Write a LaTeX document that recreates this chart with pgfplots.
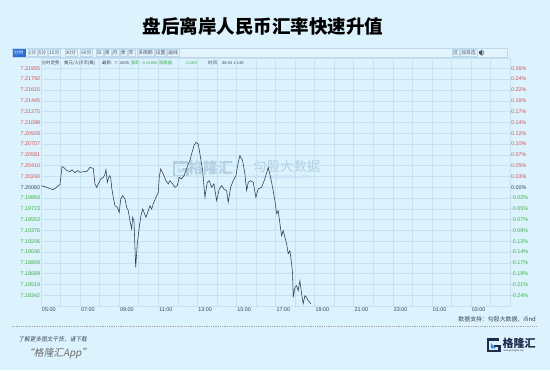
\documentclass[border=0pt]{standalone}
\usepackage{fontspec}
\setmainfont{Liberation Sans}
\newfontfamily\cjk{Noto Sans CJK SC}
\newfontfamily\cjkit[FakeSlant=0.2]{Noto Sans CJK SC}
\usepackage{pgfplots}
\pgfplotsset{compat=1.18}
\definecolor{bg}{HTML}{DCF2FC}
\definecolor{gridc}{HTML}{C4E2F3}
\definecolor{tred}{HTML}{D2555A}
\definecolor{tgreen}{HTML}{3FAE4C}
\definecolor{tdark}{HTML}{3A4458}
\definecolor{linec}{HTML}{2C3850}
\definecolor{tbborder}{HTML}{BCD8EA}
\definecolor{tbfill}{HTML}{E3F4FC}
\definecolor{tbtext}{HTML}{4A5568}
\definecolor{tbblue}{HTML}{2A6FD6}
\definecolor{navy}{HTML}{1E2B4A}
\definecolor{gblue}{HTML}{3C8DE0}
\definecolor{wm}{HTML}{B3CFE4}
\newcommand\R[1]{\textcolor{tred}{#1}}
\newcommand\G[1]{\textcolor{tgreen}{#1}}
\newcommand\D[1]{\textcolor{tdark}{#1}}
\newcommand\glogo[2]{%
  \draw[#1, line width=2.4] (12.6,12.6) -- (1.2,12.6) -- (1.2,1.2) -- (12.6,1.2) -- (12.6,6.6) -- (7.5,6.6);
  \fill[#2] (4.2,4.0) -- (9.2,4.0) -- (4.2,9.4) -- cycle;}
\begin{document}
\begin{tikzpicture}[x=1bp,y=1bp]
\useasboundingbox (0,0) rectangle (550,370);
\fill[bg] (0,0) rectangle (550,370);
% title
\node[font=\cjk\bfseries\fontsize{18.5bp}{20bp}\selectfont, text=black] at (263,344) {盘后离岸人民币汇率快速升值};
% toolbar
\draw[tbborder, fill=tbfill, line width=0.4] (12,312.6) rectangle (507,322);
\tikzset{tb/.style={draw=tbborder, fill=tbfill, line width=0.3, inner xsep=1.1bp, inner ysep=0.6bp, minimum height=6.6bp, font=\cjk\fontsize{4.8bp}{5bp}\selectfont, text=tbtext, anchor=west}}
\node[tb, fill=tbblue, draw=tbblue, text=white] at (12.7,317.3) {分时};
\node[tb] at (27.5,317.3) {1分};
\node[tb] at (37.5,317.3) {5分};
\node[tb] at (48,317.3) {15分};
\node[tb] at (64.5,317.3) {30分};
\node[tb] at (80,317.3) {60分};
\node[tb] at (95.5,317.3) {日};
\node[tb] at (103.5,317.3) {周};
\node[tb] at (111.5,317.3) {月};
\node[tb] at (119.5,317.3) {季};
\node[tb] at (127.5,317.3) {年};
\node[tb] at (137,317.3) {多周期};
\node[tb] at (154.5,317.3) {设置};
\node[tb] at (167,317.3) {画线};
\node[tb] at (452,317.3) {区};
\node[tb] at (460,317.3) {加自选};
\fill[tbtext] (478.5,315.8) rectangle (479.8,318.8);
\fill[tbtext] (479.8,315.8) -- (482.3,314.2) -- (482.3,320.4) -- (479.8,318.8) -- cycle;
\draw[tbtext, line width=0.4] (483.2,315.6) arc (-45:45:2.4);
% info line
\tikzset{inf/.style={anchor=west, inner sep=0pt, font=\cjk\fontsize{4.4bp}{5bp}\selectfont},
         num/.style={anchor=west, inner sep=0pt, font=\fontsize{4.0bp}{5bp}\selectfont}}
\node[inf, text=tdark] at (41.8,307.3) {分时走势};
\node[inf, text=tdark] at (64,307.3) {美元/人民币(离)};
\node[inf, text=tdark] at (102,307.3) {最新:};
\node[num, text=tdark] at (114.5,307.3) {7.18205};
\node[inf, text=tgreen] at (130.7,307.3) {涨跌:};
\node[num, text=tgreen] at (141.5,307.3) {-0.01855};
\node[inf, text=tgreen] at (158.5,307.3) {涨跌幅:};
\node[num, text=tgreen] at (185,307.3) {-0.26\%};
\node[inf, text=tdark] at (208,307.3) {时间:};
\node[num, text=tdark] at (222,307.3) {08-03 18:49};
% watermark
\begin{scope}[shift={(172.5,192.5)}, scale=1.2]
\glogo{wm}{wm!70!white}
\end{scope}
\node[anchor=west, inner sep=0pt, text=wm, font=\cjk\bfseries\fontsize{15bp}{16bp}\selectfont] at (188,202) {格隆汇};
\node[anchor=west, inner sep=0pt, text=wm, font=\fontsize{2.6bp}{3bp}\selectfont] at (188.5,193.5) {www.gelonghui.com};
\node[anchor=west, inner sep=0pt, text=wm, font=\cjk\fontsize{13.4bp}{14bp}\selectfont] at (253,203.5) {勾股大数据};
\node[anchor=west, inner sep=0pt, text=wm, font=\fontsize{5bp}{5bp}\selectfont] at (253,192.5) {w\,w\,w\,.\,g\,o\,g\,u\,d\,a\,t\,a\,.\,c\,o\,m};
% main axis
\begin{axis}[
  at={(41bp,64bp)}, anchor=south west, scale only axis,
  width=469bp, height=248bp,
  xmin=5, xmax=29, ymin=7.181717, ymax=7.22119,
  xtick={5,7,...,27},
  xticklabels={05:00,07:00,09:00,11:00,13:00,15:00,17:00,19:00,21:00,23:00,01:00,03:00},
  minor xtick={6,8,...,28},
  ytick={7.18342,7.1851405,7.186861,7.1885815,7.190302,7.1920225,7.193743,7.1954635,7.197184,7.1989045,7.200625,7.2023455,7.204066,7.2057865,7.207507,7.2092275,7.210948,7.2126685,7.214389,7.2161095,7.21783,7.21955},
  yticklabels={\G{7.18342},\G{7.18519},\G{7.18689},\G{7.18859},\G{7.19036},\G{7.19206},\G{7.19376},\G{7.19553},\G{7.19723},\G{7.19893},\D{7.20060},\R{7.20240},\R{7.20410},\R{7.20581},\R{7.20757},\R{7.20928},\R{7.21098},\R{7.21275},\R{7.21445},\R{7.21615},\R{7.21792},\R{7.21955}},
  ytick pos=left, xtick pos=bottom,
  major tick length=0pt, minor tick length=0pt,
  grid=both,
  major grid style={draw=gridc, line width=0.45bp},
  minor grid style={draw=gridc, line width=0.45bp},
  axis line style={draw=gridc, line width=0.45bp},
  tick label style={font=\fontsize{5.4bp}{6bp}\selectfont},
  xticklabel style={anchor=north west, inner sep=0.8bp, text=tdark, yshift=-0.6bp},
  yticklabel style={inner sep=0.6bp},
]
\addplot[linec, line width=0.55bp] coordinates {
(5.000,7.20087) (5.205,7.20071) (5.460,7.20039) (5.614,7.20023) (5.767,7.20055)
(5.870,7.20087) (5.972,7.20103) (6.074,7.20389) (6.176,7.20374) (6.330,7.20326)
(6.483,7.20310) (6.586,7.20342) (6.739,7.20294) (6.893,7.20326) (6.995,7.20299)
(7.199,7.20310) (7.353,7.20315) (7.506,7.20378) (7.675,7.20362) (7.762,7.20114)
(7.849,7.20060) (8.054,7.20194) (8.187,7.20219) (8.274,7.20273) (8.325,7.20342)
(8.391,7.20140) (8.494,7.20246) (8.565,7.20219) (8.616,7.20060) (8.698,7.19901)
(8.785,7.19769) (8.903,7.19742) (9.005,7.19662) (9.077,7.19875) (9.179,7.19928)
(9.297,7.19875) (9.384,7.19742) (9.465,7.19689) (9.552,7.19530) (9.639,7.19398)
(9.691,7.19583) (9.757,7.19530) (9.808,7.19105) (9.844,7.18787) (9.926,7.19159)
(10.028,7.19423) (10.100,7.19583) (10.202,7.19716) (10.269,7.19662) (10.371,7.19583)
(10.488,7.19689) (10.575,7.19769) (10.662,7.19716) (10.744,7.19796) (10.882,7.19901)
(11.000,7.19980) (11.051,7.20219) (11.123,7.20353) (11.256,7.20273) (11.394,7.20167)
(11.512,7.20114) (11.598,7.20167) (11.737,7.20114) (11.854,7.20060) (11.972,7.20087)
(12.074,7.20219) (12.197,7.20194) (12.315,7.20246) (12.417,7.20326) (12.535,7.20432)
(12.621,7.20485) (12.708,7.20592) (12.826,7.20724) (12.928,7.20776) (13.046,7.20751)
(13.133,7.20592) (13.271,7.20326) (13.389,7.19901) (13.506,7.20140) (13.609,7.20167)
(13.731,7.20060) (13.849,7.20114) (13.987,7.19848) (14.120,7.20035) (14.243,7.20087)
(14.361,7.20035) (14.499,7.20008) (14.581,7.19821) (14.703,7.20060) (14.836,7.20167)
(14.974,7.20246) (15.092,7.20458) (15.179,7.20565) (15.317,7.20485) (15.435,7.20273)
(15.522,7.20008) (15.604,7.20140) (15.726,7.20167) (15.859,7.20140) (15.997,7.19901)
(16.115,7.20035) (16.289,7.20060) (16.458,7.20198) (16.627,7.20378) (16.749,7.20219)
(16.882,7.20008) (16.969,7.19848) (17.056,7.19641) (17.138,7.19689) (17.225,7.19482)
(17.312,7.19291) (17.394,7.19371) (17.481,7.19264) (17.568,7.19164) (17.650,7.19005)
(17.737,7.19053) (17.824,7.18846) (17.875,7.18687) (17.905,7.18309) (17.992,7.18468)
(18.079,7.18495) (18.161,7.18416) (18.248,7.18575) (18.335,7.18368) (18.417,7.18209)
(18.504,7.18336) (18.591,7.18309) (18.673,7.18257) (18.817,7.18205)
};
\end{axis}
% right percentage axis
\begin{axis}[
  at={(41bp,64bp)}, anchor=south west, scale only axis,
  width=469bp, height=248bp,
  xmin=5, xmax=29, ymin=7.181717, ymax=7.22119,
  xtick=\empty, axis line style={draw=none},
  ytick pos=right, yticklabel pos=right,
  major tick length=0pt,
  ytick={7.18342,7.1851405,7.186861,7.1885815,7.190302,7.1920225,7.193743,7.1954635,7.197184,7.1989045,7.200625,7.2023455,7.204066,7.2057865,7.207507,7.2092275,7.210948,7.2126685,7.214389,7.2161095,7.21783,7.21955},
  yticklabels={\G{-0.24\%},\G{-0.21\%},\G{-0.19\%},\G{-0.17\%},\G{-0.14\%},\G{-0.12\%},\G{-0.09\%},\G{-0.07\%},\G{-0.05\%},\G{-0.02\%},\D{0.00\%},\R{0.03\%},\R{0.05\%},\R{0.07\%},\R{0.10\%},\R{0.12\%},\R{0.14\%},\R{0.17\%},\R{0.19\%},\R{0.22\%},\R{0.24\%},\R{0.26\%}},
  tick label style={font=\fontsize{5.4bp}{6bp}\selectfont},
  yticklabel style={inner sep=0.8bp},
]
\end{axis}
% footer
\node[anchor=east, inner sep=0pt, text=tdark, font=\cjk\fontsize{5.9bp}{6bp}\selectfont] at (536,50.7) {数据支持：勾股大数据、ifind};
\draw[gray!70, dash pattern=on 1pt off 0.8pt, line width=0.5] (12,44) -- (537,44);
\node[anchor=west, inner sep=0pt, text=tdark, font=\cjkit\fontsize{5.7bp}{6bp}\selectfont] at (18.3,30.7) {了解更多图文干货，请下载};
\node[anchor=west, inner sep=0pt, text=gray!85!black, font=\cjkit\fontsize{9.8bp}{10bp}\selectfont] at (24,16.2) {“格隆汇App”};
\begin{scope}[shift={(486.5,17.5)}, scale=1.02]
\glogo{navy}{gblue}
\end{scope}
\node[anchor=west, inner sep=0pt, text=navy, font=\cjk\bfseries\fontsize{11bp}{11bp}\selectfont] at (502.5,26.5) {格隆汇};
\node[anchor=west, inner sep=0pt, text=navy, font=\fontsize{2.3bp}{3bp}\selectfont] at (503.5,18.8) {www.gelonghui.com};
\end{tikzpicture}
\end{document}
